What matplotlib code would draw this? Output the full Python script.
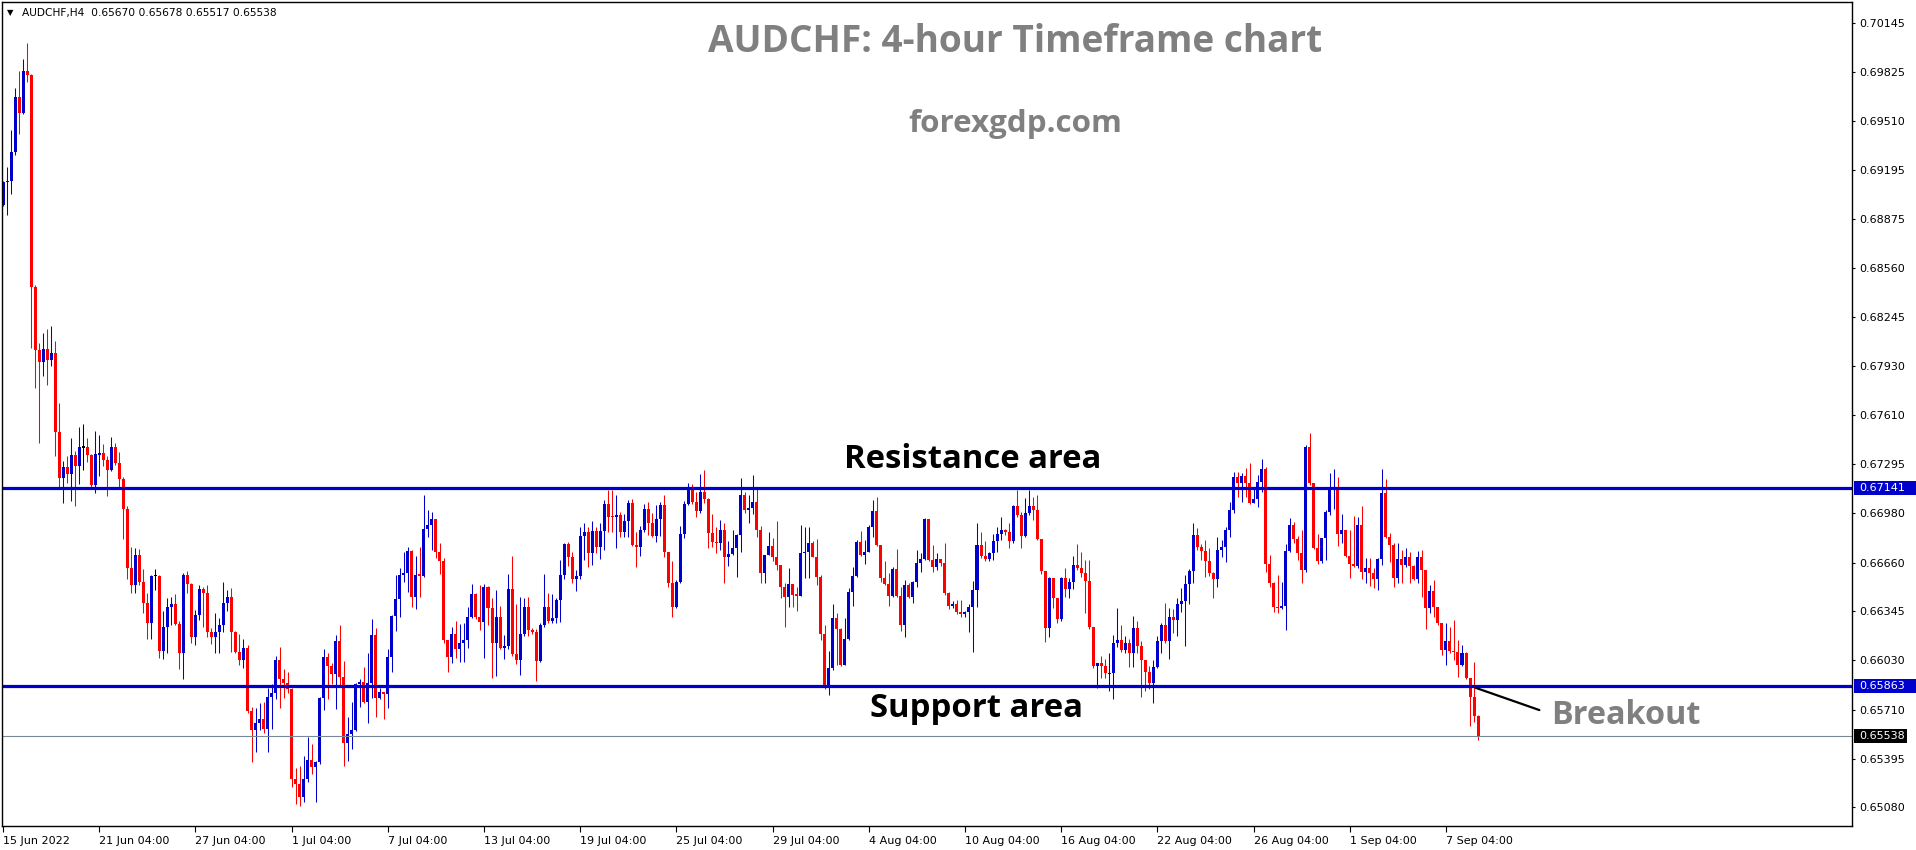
import numpy as np
import matplotlib
matplotlib.use("Agg")
import matplotlib.pyplot as plt
from matplotlib.patches import Rectangle
from matplotlib.transforms import blended_transform_factory

# AUDCHF H4 candles, prices in pips (1e-4), open = previous close
first_open = 6896.8
close_pips = [
    6911.4, 6912.3, 6931.0, 6966.5, 6956.2, 6983.3, 6980.7, 6844.1, 6803.5, 6795.7,
    6803.9, 6797.0, 6801.3, 6750.5, 6720.8, 6727.7, 6723.4, 6735.4, 6728.3, 6740.6,
    6740.6, 6735.7, 6716.1, 6736.1, 6736.5, 6732.2, 6726.0, 6740.6, 6730.1, 6719.7,
    6700.8, 6662.7, 6651.8, 6670.7, 6653.7, 6640.1, 6627.2, 6657.4, 6657.4, 6609.2,
    6624.4, 6637.3, 6639.3, 6626.4, 6607.5, 6658.0, 6652.2, 6618.2, 6632.0, 6649.0,
    6646.2, 6621.4, 6617.8, 6621.4, 6625.5, 6639.7, 6643.8, 6621.4, 6608.5, 6603.4,
    6611.1, 6570.5, 6558.2, 6562.3, 6565.3, 6558.8, 6579.3, 6581.9, 6603.2, 6591.1,
    6588.3, 6584.4, 6526.4, 6523.1, 6515.0, 6526.4, 6538.6, 6534.3, 6537.3, 6578.4,
    6604.9, 6599.5, 6594.3, 6615.2, 6592.2, 6549.8, 6555.2, 6558.0, 6587.7, 6589.2,
    6576.3, 6588.5, 6619.3, 6578.8, 6582.3, 6581.2, 6604.9, 6631.5, 6642.3, 6658.0,
    6659.3, 6673.5, 6644.0, 6658.0, 6657.4, 6687.5, 6690.3, 6694.1, 6673.1, 6667.0,
    6615.8, 6605.3, 6619.9, 6610.0, 6613.9, 6616.0, 6630.7, 6645.7, 6630.7, 6627.9,
    6650.5, 6636.5, 6614.3, 6631.1, 6610.7, 6612.4, 6648.9, 6607.0, 6603.0, 6619.9,
    6637.6, 6622.5, 6621.0, 6602.5, 6625.7, 6637.6, 6628.3, 6630.0, 6641.9, 6658.0,
    6678.0, 6669.8, 6655.4, 6657.3, 6683.1, 6685.5, 6672.0, 6686.6, 6676.3, 6686.6,
    6703.8, 6695.6, 6695.2, 6696.7, 6685.9, 6692.8, 6704.7, 6677.3, 6676.3, 6687.0,
    6700.4, 6691.3, 6683.4, 6694.1, 6703.2, 6673.0, 6653.0, 6637.6, 6653.7, 6684.4,
    6703.8, 6715.0, 6705.3, 6699.5, 6711.8, 6706.8, 6684.9, 6679.5, 6678.4, 6687.0,
    6669.8, 6671.5, 6675.2, 6683.8, 6709.6, 6699.9, 6701.0, 6705.3, 6687.0, 6659.1,
    6670.9, 6676.7, 6669.8, 6664.4, 6650.0, 6644.0, 6652.2, 6645.1, 6644.7, 6672.0,
    6673.0, 6678.4, 6669.8, 6656.9, 6619.7, 6584.9, 6597.8, 6630.0, 6622.9, 6599.9,
    6616.5, 6647.2, 6657.3, 6679.5, 6670.9, 6673.0, 6688.7, 6699.5, 6677.3, 6655.8,
    6652.2, 6644.4, 6661.9, 6644.4, 6625.7, 6651.5, 6643.6, 6653.7, 6665.5, 6668.1,
    6694.1, 6667.7, 6663.0, 6668.1, 6665.5, 6646.6, 6638.2, 6639.3, 6634.3, 6632.6,
    6633.9, 6637.6, 6648.3, 6677.3, 6670.2, 6668.5, 6672.0, 6680.1, 6684.4, 6687.0,
    6685.5, 6680.1, 6702.7, 6696.7, 6683.4, 6697.8, 6702.5, 6699.9, 6681.2, 6660.6,
    6624.0, 6656.3, 6642.9, 6629.4, 6656.3, 6648.7, 6653.7, 6664.4, 6662.3, 6659.5,
    6654.1, 6624.6, 6599.5, 6601.0, 6599.5, 6594.5, 6595.0, 6613.9, 6616.0, 6609.6,
    6614.3, 6607.9, 6623.6, 6612.4, 6603.1, 6595.6, 6588.1, 6598.8, 6615.4, 6625.7,
    6615.6, 6630.7, 6628.9, 6639.3, 6641.2, 6652.2, 6660.6, 6683.8, 6676.3, 6673.7,
    6667.2, 6659.1, 6655.2, 6674.1, 6676.3, 6687.0, 6699.9, 6721.4, 6717.1, 6721.9,
    6717.1, 6704.7, 6707.0, 6718.2, 6726.4, 6665.1, 6653.0, 6637.1, 6636.5, 6638.0,
    6673.5, 6690.2, 6681.0, 6672.4, 6661.2, 6740.8, 6717.1, 6675.2, 6667.0, 6681.6,
    6698.4, 6713.9, 6714.5, 6684.4, 6687.0, 6670.2, 6665.1, 6663.8, 6690.2, 6660.1,
    6662.3, 6659.1, 6655.2, 6668.1, 6710.7, 6682.7, 6677.3, 6655.8, 6668.1, 6664.4,
    6669.8, 6664.0, 6655.2, 6669.8, 6661.2, 6636.9, 6647.7, 6637.1, 6626.8, 6609.6,
    6615.4, 6609.1, 6608.1, 6599.9, 6607.9, 6591.3, 6579.5, 6567.0, 6553.8,
]
high_pips = [
    6912.0, 6921.6, 6945.2, 6972.3, 6983.3, 6991.0, 7001.4, 6981.4, 6845.0, 6807.5,
    6814.4, 6816.8, 6819.0, 6809.0, 6768.8, 6731.6, 6734.6, 6746.4, 6738.2, 6753.5,
    6755.2, 6746.4, 6736.0, 6750.7, 6748.1, 6742.3, 6734.8, 6747.1, 6743.0, 6737.2,
    6721.5, 6702.5, 6675.9, 6675.2, 6674.6, 6661.9, 6646.2, 6658.0, 6661.9, 6658.0,
    6634.8, 6643.2, 6643.6, 6645.5, 6628.3, 6659.3, 6660.6, 6653.0, 6635.4, 6651.8,
    6650.5, 6651.3, 6623.6, 6633.3, 6630.5, 6653.3, 6648.3, 6649.6, 6621.8, 6619.7,
    6616.7, 6612.8, 6573.0, 6572.0, 6575.4, 6576.3, 6585.3, 6587.7, 6605.9, 6611.7,
    6597.1, 6595.4, 6584.8, 6533.7, 6534.7, 6541.4, 6553.7, 6549.0, 6538.0, 6579.0,
    6610.0, 6607.7, 6601.0, 6619.3, 6625.7, 6602.5, 6566.6, 6576.3, 6588.0, 6590.9,
    6598.4, 6607.9, 6629.8, 6624.0, 6584.9, 6582.5, 6610.5, 6632.0, 6658.0, 6662.5,
    6673.1, 6676.1, 6674.4, 6670.0, 6676.1, 6709.6, 6700.2, 6698.4, 6694.3, 6678.4,
    6669.2, 6616.0, 6624.7, 6628.3, 6626.2, 6626.8, 6637.3, 6652.2, 6646.2, 6651.6,
    6652.2, 6651.1, 6643.0, 6648.3, 6638.0, 6619.3, 6658.6, 6670.2, 6639.0, 6644.0,
    6642.9, 6644.0, 6624.0, 6623.0, 6626.8, 6658.6, 6646.4, 6646.0, 6643.0, 6667.7,
    6678.9, 6679.0, 6673.0, 6661.2, 6688.7, 6691.3, 6689.0, 6693.0, 6688.7, 6691.3,
    6706.4, 6712.8, 6712.8, 6709.6, 6698.9, 6697.4, 6706.4, 6706.8, 6685.9, 6689.8,
    6703.8, 6705.3, 6698.0, 6703.2, 6704.9, 6709.6, 6673.0, 6667.2, 6654.8, 6689.8,
    6705.7, 6717.1, 6716.5, 6711.8, 6723.2, 6725.7, 6707.5, 6697.4, 6688.7, 6693.5,
    6691.3, 6680.1, 6687.0, 6684.4, 6720.4, 6711.8, 6709.6, 6722.5, 6715.0, 6689.6,
    6671.0, 6686.0, 6681.6, 6692.8, 6664.4, 6652.6, 6662.3, 6651.5, 6650.5, 6690.3,
    6689.2, 6688.7, 6680.1, 6681.4, 6657.9, 6625.7, 6609.2, 6639.1, 6633.7, 6623.6,
    6630.0, 6649.4, 6663.4, 6680.6, 6686.6, 6680.6, 6690.3, 6706.4, 6708.1, 6677.3,
    6667.2, 6659.1, 6663.4, 6674.8, 6650.5, 6654.8, 6653.0, 6654.0, 6674.1, 6672.0,
    6694.5, 6694.1, 6677.3, 6672.0, 6668.5, 6678.4, 6647.0, 6641.0, 6641.8, 6641.8,
    6635.0, 6639.0, 6654.1, 6691.3, 6685.9, 6680.1, 6673.0, 6684.2, 6688.7, 6695.2,
    6688.0, 6691.3, 6703.2, 6712.8, 6698.8, 6707.5, 6712.8, 6708.5, 6709.6, 6681.2,
    6660.6, 6657.0, 6654.8, 6643.0, 6656.5, 6662.3, 6656.0, 6670.2, 6677.8, 6672.6,
    6667.7, 6667.7, 6624.6, 6601.5, 6605.7, 6603.6, 6607.4, 6619.3, 6636.5, 6625.7,
    6618.8, 6616.4, 6631.5, 6628.3, 6615.4, 6603.1, 6599.0, 6603.1, 6618.6, 6626.8,
    6639.7, 6636.5, 6636.0, 6642.9, 6649.4, 6658.0, 6661.6, 6691.3, 6688.1, 6678.0,
    6680.6, 6675.2, 6660.0, 6682.7, 6680.6, 6689.2, 6705.3, 6724.7, 6724.7, 6723.6,
    6726.8, 6730.0, 6713.9, 6722.5, 6732.8, 6727.9, 6670.9, 6653.5, 6658.0, 6653.7,
    6678.0, 6695.0, 6692.4, 6683.1, 6687.0, 6741.9, 6749.4, 6717.5, 6684.4, 6682.0,
    6699.9, 6724.0, 6726.4, 6721.0, 6697.3, 6687.0, 6687.0, 6696.3, 6695.2, 6702.5,
    6668.7, 6668.7, 6662.5, 6669.0, 6726.4, 6719.7, 6684.9, 6678.8, 6678.4, 6674.1,
    6675.2, 6673.0, 6664.4, 6673.5, 6674.1, 6661.5, 6651.5, 6654.8, 6637.5, 6627.0,
    6627.2, 6624.6, 6628.9, 6616.0, 6612.8, 6608.5, 6591.5, 6601.6, 6567.8,
]
low_pips = [
    6896.0, 6890.6, 6904.1, 6929.3, 6942.8, 6955.8, 6976.2, 6804.3, 6778.9, 6743.0,
    6786.7, 6780.9, 6793.1, 6735.1, 6715.0, 6704.7, 6717.6, 6706.0, 6702.5, 6716.7,
    6725.8, 6731.1, 6715.0, 6710.7, 6721.9, 6728.5, 6709.2, 6725.1, 6729.0, 6714.6,
    6681.2, 6655.4, 6646.4, 6646.4, 6651.8, 6633.7, 6616.7, 6616.7, 6648.3, 6604.4,
    6604.0, 6607.7, 6625.5, 6625.5, 6597.6, 6591.1, 6646.4, 6613.9, 6612.8, 6629.0,
    6624.2, 6618.2, 6613.5, 6607.7, 6607.7, 6621.4, 6635.0, 6608.5, 6607.7, 6599.9,
    6597.8, 6568.7, 6537.3, 6544.0, 6558.0, 6556.3, 6544.0, 6558.8, 6578.0, 6572.4,
    6578.8, 6582.1, 6521.4, 6510.4, 6509.1, 6511.5, 6524.6, 6529.6, 6511.3, 6536.0,
    6570.9, 6578.2, 6587.7, 6571.5, 6586.4, 6535.0, 6538.2, 6545.5, 6557.0, 6573.0,
    6575.2, 6562.3, 6578.9, 6566.6, 6578.0, 6564.9, 6572.4, 6595.6, 6622.1, 6630.6,
    6653.5, 6647.2, 6637.3, 6636.1, 6644.0, 6656.5, 6682.7, 6674.1, 6669.2, 6658.9,
    6613.9, 6595.6, 6601.0, 6604.6, 6602.1, 6601.9, 6610.7, 6630.0, 6629.4, 6622.5,
    6604.2, 6625.7, 6591.7, 6593.0, 6610.0, 6603.8, 6610.2, 6606.0, 6600.6, 6593.5,
    6618.6, 6618.6, 6619.7, 6589.8, 6602.0, 6624.6, 6627.0, 6627.0, 6627.2, 6627.9,
    6655.4, 6664.0, 6652.6, 6647.9, 6655.4, 6667.7, 6663.4, 6664.4, 6672.0, 6668.1,
    6674.1, 6685.5, 6686.0, 6675.6, 6682.3, 6682.7, 6682.7, 6676.7, 6663.4, 6670.5,
    6686.0, 6683.8, 6682.7, 6679.5, 6683.1, 6669.4, 6650.4, 6631.1, 6636.5, 6653.0,
    6681.6, 6703.0, 6704.0, 6695.6, 6698.2, 6704.2, 6675.2, 6675.8, 6672.0, 6674.1,
    6653.0, 6663.8, 6670.9, 6656.9, 6673.0, 6697.8, 6691.3, 6697.3, 6682.7, 6653.0,
    6653.0, 6670.9, 6667.0, 6661.2, 6643.0, 6624.6, 6637.6, 6637.6, 6635.0, 6644.6,
    6655.8, 6655.8, 6669.4, 6651.5, 6616.0, 6584.2, 6580.6, 6597.0, 6599.9, 6599.0,
    6605.7, 6616.0, 6638.0, 6656.5, 6670.0, 6665.1, 6673.0, 6682.7, 6677.0, 6653.7,
    6651.5, 6638.0, 6644.0, 6644.0, 6622.1, 6618.2, 6643.0, 6639.7, 6650.5, 6660.1,
    6667.7, 6667.0, 6660.0, 6661.0, 6664.0, 6645.1, 6636.0, 6637.0, 6633.0, 6631.0,
    6631.0, 6621.0, 6608.1, 6637.6, 6668.7, 6667.0, 6667.0, 6667.7, 6673.0, 6680.6,
    6684.0, 6675.6, 6678.4, 6695.6, 6675.6, 6682.3, 6696.7, 6693.5, 6680.6, 6658.6,
    6615.0, 6618.2, 6636.9, 6626.8, 6628.0, 6644.0, 6642.9, 6649.0, 6661.2, 6657.0,
    6633.2, 6623.1, 6597.8, 6584.8, 6591.3, 6591.3, 6583.3, 6577.7, 6611.7, 6608.5,
    6607.4, 6598.8, 6598.4, 6607.4, 6579.0, 6583.3, 6584.2, 6575.2, 6598.0, 6607.4,
    6613.9, 6603.6, 6620.3, 6618.6, 6634.3, 6612.4, 6639.0, 6652.6, 6674.1, 6667.7,
    6656.9, 6657.3, 6642.9, 6650.5, 6669.4, 6666.6, 6682.7, 6698.0, 6708.5, 6705.3,
    6708.5, 6703.8, 6704.2, 6701.6, 6711.8, 6660.1, 6650.5, 6634.4, 6633.2, 6635.8,
    6622.5, 6673.0, 6678.4, 6667.7, 6653.0, 6660.1, 6716.0, 6674.5, 6665.0, 6665.9,
    6667.7, 6696.7, 6700.4, 6676.7, 6678.4, 6669.4, 6655.8, 6663.4, 6662.3, 6655.2,
    6652.6, 6651.1, 6649.4, 6648.3, 6664.4, 6682.0, 6666.6, 6650.5, 6653.0, 6653.0,
    6663.4, 6652.6, 6654.8, 6652.6, 6644.0, 6622.9, 6633.2, 6631.1, 6625.7, 6606.4,
    6599.9, 6607.4, 6603.1, 6591.9, 6599.3, 6590.7, 6560.5, 6563.3, 6551.7,
]

date_labels = ['15 Jun 2022', '21 Jun 04:00', '27 Jun 04:00', '1 Jul 04:00', '7 Jul 04:00',
               '13 Jul 04:00', '19 Jul 04:00', '25 Jul 04:00', '29 Jul 04:00', '4 Aug 04:00',
               '10 Aug 04:00', '16 Aug 04:00', '22 Aug 04:00', '26 Aug 04:00', '1 Sep 04:00',
               '7 Sep 04:00']
bars_per_label = 24
price_ticks = [0.70145, 0.69825, 0.69510, 0.69195, 0.68875, 0.68560, 0.68245, 0.67930,
               0.67610, 0.67295, 0.66980, 0.66660, 0.66345, 0.66030, 0.65710, 0.65395, 0.65080]
resistance = 0.67141
support = 0.65863
last_price = 0.65538
header = 'AUDCHF,H4  0.65670 0.65678 0.65517 0.65538'

W, H = 1916, 850
BLUE = '#0000CD'
RED = '#FF0000'

closes = np.array(close_pips) / 1e4
opens = np.concatenate([[first_open / 1e4], closes[:-1]])
highs = np.maximum(np.array(high_pips) / 1e4, np.maximum(opens, closes))
lows = np.minimum(np.array(low_pips) / 1e4, np.minimum(opens, closes))
x = np.arange(len(closes))

colors = np.where(closes > opens, BLUE, np.where(closes < opens, RED, 'black'))

fig = plt.figure(figsize=(W / 100, H / 100), dpi=100)
fig.patch.set_facecolor('white')
ax = fig.add_axes([2 / W, 24 / H, 1850 / W, 824 / H])

# candles
ax.vlines(x, lows, highs, colors=colors, linewidth=0.75)
body = closes - opens
minh = 0.00007
body = np.where(np.abs(body) < minh, minh, body)
bottom = np.where(np.abs(closes - opens) < minh, opens - minh / 2, opens)
ax.bar(x, body, bottom=bottom, width=0.75, color=colors, linewidth=0)

ax.axhline(resistance, color=BLUE, linewidth=2.3)
ax.axhline(support, color=BLUE, linewidth=2.3)
ax.axhline(last_price, color='#778899', linewidth=0.8)

ax.set_xlim(-0.25, 461.3)
ax.set_ylim(0.64960, 0.70278)

ax.yaxis.tick_right()
ax.set_yticks(price_ticks)
ax.set_yticklabels(['%.5f' % p for p in price_ticks])
ax.tick_params(axis='y', length=2.5, width=0.8, pad=3, labelsize=8, colors='black')
ax.set_xticks(np.arange(len(date_labels)) * bars_per_label)
ax.set_xticklabels(date_labels, ha='left')
ax.tick_params(axis='x', length=4, width=0.8, pad=3, labelsize=8)
for sp in ax.spines.values():
    sp.set_linewidth(1.0)
    sp.set_color('black')

# highlighted price labels on the right scale
tr = blended_transform_factory(fig.transFigure, ax.transData)
box_h = 14 / 15493
for price, bg, right in [(resistance, BLUE, 1916), (support, BLUE, 1916), (last_price, 'black', 1907)]:
    ax.add_patch(Rectangle((1854 / W, price - box_h / 2), (right - 1854) / W, box_h,
                           transform=tr, facecolor=bg, edgecolor='none', clip_on=False, zorder=5))
    ax.text(1859 / W, price, '%.5f' % price, transform=tr, color='white', fontsize=8,
            va='center', ha='left', zorder=6, clip_on=False)

renderer = fig.canvas.get_renderer()


def fit_text(cx, base_y, s, width_px, **kw):
    t = fig.text(cx / W, 1 - base_y / H, s, ha='center', va='baseline', **kw)
    w = t.get_window_extent(renderer).width
    t.set_fontsize(t.get_fontsize() * width_px / w)
    return t


font = dict(family=['Open Sans', 'DejaVu Sans'], fontweight='bold', fontsize=30)
fit_text(1015, 52, 'AUDCHF: 4-hour Timeframe chart', 614, color='#808080', **font)
fit_text(1015, 132, 'forexgdp.com', 214, color='#808080', **font)
fit_text(973, 468, 'Resistance area', 257, color='black', **font)
fit_text(976, 717, 'Support area', 213, color='black', **font)
fit_text(1626, 724, 'Breakout', 149, color='#808080', **font)

# breakout pointer
ax.annotate('', xy=(1472.5 / W, 1 - 686.7 / H), xytext=(1542 / W, 1 - 711 / H),
            xycoords='figure fraction', textcoords='figure fraction',
            arrowprops=dict(arrowstyle='-', color='black', linewidth=1.6))

# header
fig.text(7 / W, 1 - 13 / H, '\u25BC', fontsize=6, va='center', ha='left', color='black')
fig.text(22 / W, 1 - 13 / H, header, fontsize=7.7, va='center', ha='left', color='black')

fig.savefig('out.png', dpi=100, facecolor='white')
